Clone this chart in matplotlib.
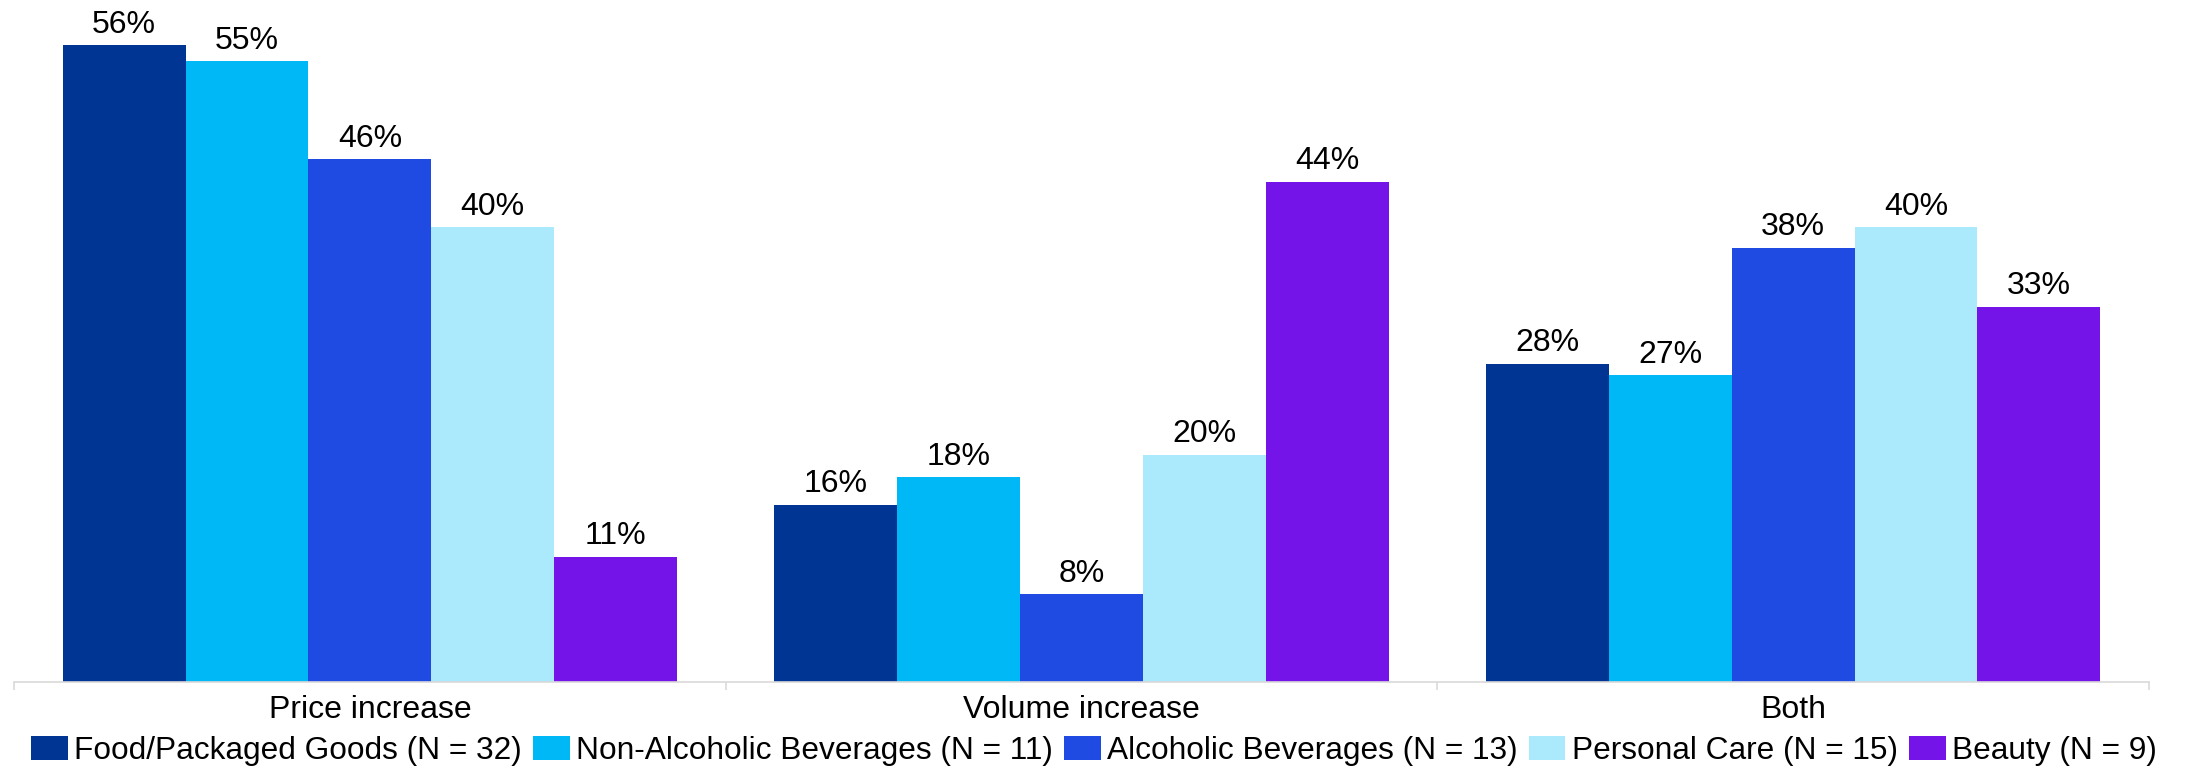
import matplotlib
matplotlib.use("Agg")
from matplotlib import pyplot as plt
import numpy as np

# ---- data ----
categories = ["Price increase", "Volume increase", "Both"]
series_names = ["Food/Packaged Goods (N = 32)", "Non-Alcoholic Beverages (N = 11)",
                "Alcoholic Beverages (N = 13)", "Personal Care (N = 15)", "Beauty (N = 9)"]
# bar heights (labels show the rounded value)
food = [56, 15.6, 28]
non_alc = [54.6, 18, 27]
alcoholic = [46, 7.7, 38.2]
personal = [40, 20, 40]
beauty = [11, 44, 33]
colors = ["#003594", "#00B8F5", "#1F4BE3", "#ABE9FD", "#7414E9"]

plt.rcParams['font.family'] = ['Liberation Sans', 'DejaVu Sans']
fs = 23

fig = plt.figure(figsize=(21.88, 7.7), dpi=100)
ax = fig.add_axes([14 / 2188, 88 / 770, 2135 / 2188, 682 / 770])

series = [food, non_alc, alcoholic, personal, beauty]
x = np.arange(len(categories))
group_w = 0.863
bar_w = group_w / len(series)

for i, vals in enumerate(series):
    pos = x - group_w / 2 + bar_w * (i + 0.5)
    bars = ax.bar(pos, vals, width=bar_w, color=colors[i], label=series_names[i])
    for b, v in zip(bars, vals):
        ax.annotate(f"{int(v + 0.5)}%", (b.get_x() + b.get_width() / 2, v),
                    xytext=(0, 4), textcoords="offset points",
                    ha="center", va="bottom", fontsize=fs)

ax.set_xlim(-0.5, 2.5)
ax.set_ylim(0, 60)
ax.set_yticks([])
for s in ["top", "right", "left"]:
    ax.spines[s].set_visible(False)
ax.spines["bottom"].set_color("#D9D9D9")
ax.spines["bottom"].set_linewidth(1.2)

# separators as major ticks, category names as minor ticks
ax.set_xticks([-0.5, 0.5, 1.5, 2.5])
ax.set_xticklabels([])
ax.tick_params(axis="x", which="major", length=6, color="#D9D9D9", width=1.2)
ax.set_xticks(x, minor=True)
ax.set_xticklabels(categories, minor=True, fontsize=fs)
ax.tick_params(axis="x", which="minor", length=0, pad=9)

fig.legend(loc="center", bbox_to_anchor=(0.5, 1 - 751 / 770), ncol=5, frameon=False,
           fontsize=22.8, handlelength=1.15, handleheight=0.82, handletextpad=0.2,
           columnspacing=0.36, borderpad=0, borderaxespad=0)

fig.savefig("out.png", dpi=100)
